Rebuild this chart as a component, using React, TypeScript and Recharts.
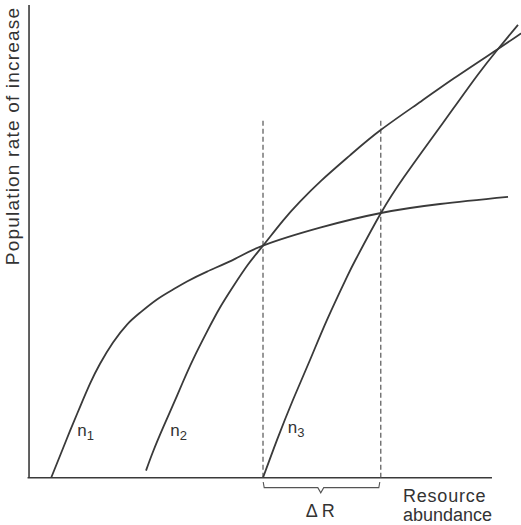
import React from 'react'
import { ComposedChart, Line, XAxis, YAxis, ReferenceLine, ReferenceDot } from 'recharts'

// Resource abundance (x) vs population rate of increase (y), arbitrary 0-100 units
const n1Curve = [
  { x: 4.5, y: 0 }, { x: 6.3, y: 4.65 }, { x: 8.33, y: 9.9 }, { x: 10.37, y: 15.0 },
  { x: 12.4, y: 19.9 }, { x: 14.43, y: 24.1 }, { x: 17.07, y: 28.6 }, { x: 19.92, y: 32.4 },
  { x: 22.56, y: 34.9 }, { x: 26.0, y: 37.7 }, { x: 29.27, y: 39.8 }, { x: 32.11, y: 41.5 },
  { x: 36.18, y: 43.6 }, { x: 41.87, y: 46.3 }, { x: 47.56, y: 49.1 }, { x: 59.15, y: 52.9 },
  { x: 71.54, y: 56.0 }, { x: 83.54, y: 57.9 }, { x: 97.36, y: 59.4 },
]

const n2Curve = [
  { x: 23.78, y: 1.5 }, { x: 25.2, y: 5.5 }, { x: 27.24, y: 10.6 }, { x: 29.27, y: 15.4 },
  { x: 31.3, y: 20.3 }, { x: 33.33, y: 25.0 }, { x: 36.18, y: 30.9 }, { x: 38.82, y: 36.0 },
  { x: 41.46, y: 40.4 }, { x: 44.51, y: 45.1 }, { x: 47.56, y: 49.1 }, { x: 51.63, y: 54.4 },
  { x: 55.08, y: 58.4 }, { x: 59.35, y: 62.8 }, { x: 65.24, y: 68.2 }, { x: 71.54, y: 73.6 },
  { x: 79.67, y: 79.6 }, { x: 86.38, y: 84.5 }, { x: 95.33, y: 90.7 }, { x: 100, y: 94.0 },
]

const n3Curve = [
  { x: 47.56, y: 0 }, { x: 50.41, y: 8.0 }, { x: 53.66, y: 16.5 }, { x: 57.11, y: 24.9 },
  { x: 60.57, y: 33.4 }, { x: 64.63, y: 42.5 }, { x: 66.67, y: 46.7 }, { x: 71.54, y: 56.0 },
  { x: 76.22, y: 63.6 }, { x: 81.1, y: 70.7 }, { x: 86.38, y: 78.3 }, { x: 91.26, y: 85.3 },
  { x: 95.33, y: 90.7 }, { x: 99.39, y: 95.8 },
]

// the two resource levels where n1 meets n2 and n3
const deltaR = [47.56, 71.5]
const dashTop = 76.1

// curly bracket under the axis between the two resource levels
const bracket = [
  { x: 47.6, y: -0.9 }, { x: 47.8, y: -2.1 }, { x: 58.7, y: -2.1 }, { x: 59.3, y: -3.2 },
  { x: 59.9, y: -2.1 }, { x: 71.1, y: -2.1 }, { x: 71.3, y: -0.9 },
]

const curveLabels = [
  { sub: '1', x: 9.8, y: 8.9 },
  { sub: '2', x: 28.7, y: 8.9 },
  { sub: '3', x: 52.6, y: 9.5 },
]

const xAxisEnd = 94.1
const FONT = '"Liberation Sans", Arial, Helvetica, sans-serif'
const INK = '#3a3a3a'

const curveProps = {
  type: 'natural' as const,
  dataKey: 'y',
  stroke: INK,
  strokeWidth: 1.8,
  dot: false,
  activeDot: false,
  isAnimationActive: false,
}

export default function App() {
  return (
    <div style={{ position: 'absolute', left: 0, top: 0, background: '#fff' }}>
      <ComposedChart width={521} height={525} margin={{ top: 5, right: 0, bottom: 0, left: 0 }}>
        <XAxis type="number" dataKey="x" domain={[-5.9, 100]} hide allowDataOverflow />
        <YAxis type="number" dataKey="y" domain={[-10, 100]} hide allowDataOverflow />

        {/* axes */}
        <ReferenceLine segment={[{ x: -0.3, y: 0 }, { x: xAxisEnd, y: 0 }]} stroke={INK} strokeWidth={1.6} />
        <ReferenceLine segment={[{ x: 0, y: 0 }, { x: 0, y: 100 }]} stroke={INK} strokeWidth={1.6} />

        {deltaR.map((r) => (
          <ReferenceLine
            key={r}
            segment={[{ x: r, y: 0 }, { x: r, y: dashTop }]}
            stroke="#555"
            strokeWidth={1.2}
            strokeDasharray="5 3"
          />
        ))}

        <Line data={n1Curve} {...curveProps} />
        <Line data={n2Curve} {...curveProps} />
        <Line data={n3Curve} {...curveProps} />
        <Line data={bracket} type="linear" dataKey="y" stroke="#555" strokeWidth={1.1} dot={false} activeDot={false} isAnimationActive={false} />

        {curveLabels.map((c) => (
          <ReferenceDot
            key={c.sub}
            x={c.x}
            y={c.y}
            r={0}
            fill="none"
            stroke="none"
            label={({ viewBox }: any) => (
              <text x={viewBox.x} y={viewBox.y} fontFamily={FONT} fontSize={17} fill="#333">
                n<tspan fontSize={13} dy={4}>{c.sub}</tspan>
              </text>
            )}
          />
        ))}

        <ReferenceDot
          x={59.2}
          y={-8.3}
          r={0}
          fill="none"
          stroke="none"
          label={({ viewBox }: any) => (
            <text x={viewBox.x} y={viewBox.y} textAnchor="middle" fontFamily={FONT} fontSize={18} fill="#333">
              Δ R
            </text>
          )}
        />

        <ReferenceDot
          x={76.0}
          y={-5.1}
          r={0}
          fill="none"
          stroke="none"
          label={({ viewBox }: any) => (
            <text fontFamily={FONT} fontSize={18} fill="#333">
              <tspan x={viewBox.x} y={viewBox.y} letterSpacing={0.8}>Resource</tspan>
              <tspan x={viewBox.x} y={viewBox.y + 19}>abundance</tspan>
            </text>
          )}
        />

        <ReferenceDot
          x={-2.05}
          y={72.3}
          r={0}
          fill="none"
          stroke="none"
          label={({ viewBox }: any) => (
            <text
              transform={`translate(${viewBox.x},${viewBox.y}) rotate(-90)`}
              textAnchor="middle"
              fontFamily={FONT}
              fontSize={19}
              letterSpacing={1.2}
              fill="#333"
            >
              Population rate of increase
            </text>
          )}
        />
      </ComposedChart>
    </div>
  )
}
